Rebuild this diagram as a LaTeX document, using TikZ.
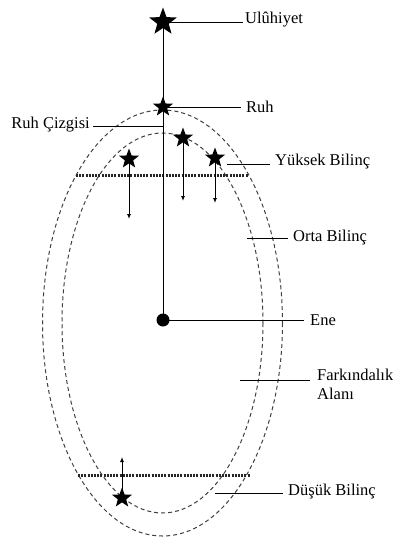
\documentclass[tikz,border=0pt]{standalone}
\usepackage{fontspec}
\setmainfont{Liberation Serif}
\usetikzlibrary{shapes.geometric,arrows.meta}
\tikzset{
  starnode/.style={star, star points=5, star point ratio=2.4, fill=black, draw=none, inner sep=0pt, minimum size=#1},
  lab/.style={anchor=west, font=\fontsize{16.5}{19}\selectfont, inner sep=0pt},
  dashy/.style={dash pattern=on 4pt off 3pt, line width=1pt, draw=black!75},
  dotty/.style={dash pattern=on 2pt off 1.2pt, line width=3pt, draw=black!85},
  conn/.style={line width=0.95pt},
  arr/.style={line width=0.95pt, -{Latex[length=5pt,width=4pt]}}
}
\begin{document}
\begin{tikzpicture}[x=1pt,y=-1pt]
\useasboundingbox (0,0) rectangle (393,543);
% ellipses
\draw[dashy] (162.5,323) ellipse [x radius=120, y radius=213];
\draw[dashy] (162.5,323) ellipse [x radius=100.5, y radius=190];
% dotted lines
\coordinate (d1a) at (76,175); \coordinate (d1b) at (248,175);
\coordinate (d2a) at (78,475); \coordinate (d2b) at (250,475);
\draw[dotty] (d1a) -- (d1b);
\draw[dotty] (d2a) -- (d2b);
% main nodes
\node[starnode=29pt] (ulu) at (163,22) {};
\node[starnode=21pt] (ruh) at (163,107) {};
\node[circle, fill=black, inner sep=0pt, minimum size=13pt] (ene) at (163,320) {};
\draw[conn] (ulu.center) -- (ene.center);
% stars with arrows
\node[starnode=21pt] (s1) at (129,159) {};
\node[starnode=21pt] (s2) at (183,138) {};
\node[starnode=21pt] (s3) at (215,158) {};
\node[starnode=21pt] (s4) at (122,498) {};
\coordinate (a1) at (129,219);
\coordinate (a2) at (183,201);
\coordinate (a3) at (215,203);
\coordinate (a4) at (122,457);
\draw[arr] (s1.center) -- (a1);
\draw[arr] (s2.center) -- (a2);
\draw[arr] (s3.center) -- (a3);
\draw[arr] (s4.center) -- (a4);
% labels
\node[lab] (lulu) at (245,20) {Ulûhiyet};
\node[lab] (lruh) at (246,107) {Ruh};
\node[lab, anchor=east] (lciz) at (90,125) {Ruh Çizgisi};
\node[lab] (lyuk) at (275,162) {Yüksek Bilinç};
\node[lab] (lort) at (293,238) {Orta Bilinç};
\node[lab] (lene) at (310,320) {Ene};
\node[lab, align=left] (lfar) at (317,384) {Farkındalık\\Alanı};
\node[lab] (ldus) at (288,492) {Düşük Bilinç};
% connectors
\coordinate (cciz) at (163,126);
\coordinate (cyuk) at (227,164);
\coordinate (cort) at (247,238);
\coordinate (cfar) at (240,380);
\coordinate (cdus) at (215,493);
\draw[conn] (ulu.center) -- ([xshift=-2pt]lulu.west |- ulu.center);
\draw[conn] (ruh.center) -- ([xshift=-5pt]lruh.west |- ruh.center);
\draw[conn] ([xshift=3pt]lciz.east |- cciz) -- (cciz);
\draw[conn] (cyuk) -- ([xshift=-5pt]lyuk.west |- cyuk);
\draw[conn] (cort) -- ([xshift=-5pt]lort.west |- cort);
\draw[conn] (ene.center) -- ([xshift=-6pt]lene.west |- ene.center);
\draw[conn] (cfar) -- (310,380);
\draw[conn] (cdus) -- ([xshift=-5pt]ldus.west |- cdus);
\end{tikzpicture}
\end{document}
